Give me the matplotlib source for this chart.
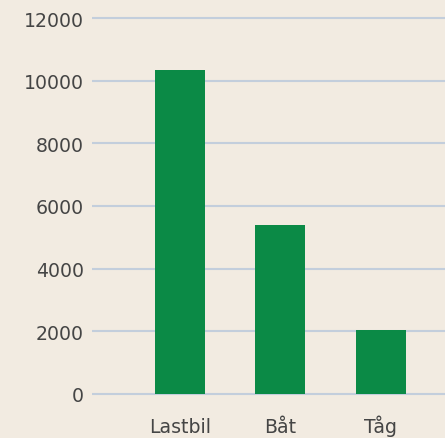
import matplotlib
matplotlib.use("Agg")
import matplotlib.pyplot as plt

categories = ["Lastbil", "Båt", "Tåg"]
values = [10350, 5400, 2050]
yticks = [0, 2000, 4000, 6000, 8000, 10000, 12000]

bg = "#f2ebe1"
bar_color = "#0b8a46"
grid_color = "#c3cedc"
text_color = "#454545"

plt.rcParams['font.family'] = ['DejaVu Sans']

W, H = 445, 439
fig = plt.figure(figsize=(W / 100, H / 100), dpi=100, facecolor=bg)
# axes placed in pixels: left 92, bottom 34.6, to right edge, top 9.6
ax = fig.add_axes([92 / W, 34.6 / H, (W - 92) / W, (H - 34.6 - 9.6) / H])
ax.set_facecolor(bg)

ax.bar(range(len(categories)), values, width=0.5, color=bar_color, zorder=2)

ax.set_xlim(-0.875, 2.64)
ax.set_ylim(-300, 12300)
ax.set_yticks(yticks)
ax.set_xticks(range(len(categories)))
ax.set_xticklabels(categories, va='baseline')

ax.yaxis.grid(True, color=grid_color, linewidth=1.5, zorder=1)
ax.set_axisbelow(True)
for s in ax.spines.values():
    s.set_visible(False)
ax.tick_params(axis='both', length=0, labelsize=13.6, labelcolor=text_color)
ax.tick_params(axis='y', pad=6)
ax.tick_params(axis='x', pad=20.5)

fig.savefig("out.png", dpi=100, facecolor=bg)
